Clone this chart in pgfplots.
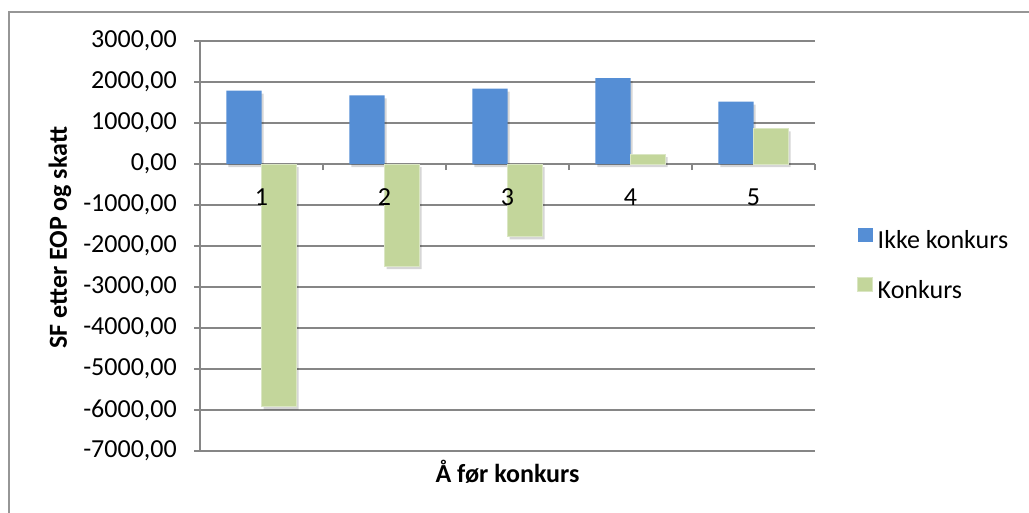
\documentclass[border=0pt]{standalone}
\usepackage{pgfplots}
\pgfplotsset{compat=1.18}
\usepackage{fontspec}
\setmainfont{Carlito}
\definecolor{barblue}{RGB}{85,142,213}
\definecolor{bargreen}{RGB}{195,214,155}
\definecolor{greenedge}{RGB}{218,230,195}
\definecolor{gridgray}{RGB}{134,134,134}
\definecolor{framegray}{RGB}{150,150,150}
\newcommand\chartfont{\fontsize{26bp}{31bp}\selectfont}
\begin{document}
\begin{tikzpicture}
% chart frame (top and left edges)
\draw[framegray, line width=1.3bp] (9bp,0bp) -- (9bp,501bp) -- (1029bp,501bp);
\begin{axis}[
  at={(200bp,62bp)}, anchor=south west,
  scale only axis, width=615bp, height=410bp,
  xmin=0.5, xmax=5.5, ymin=-7000, ymax=3000,
  axis x line=middle, axis y line=left,
  axis line style={-, gridgray, line width=1.3bp},
  ytick={-7000,-6000,...,3000},
  xtick={1,2,3,4,5},
  xticklabels={},
  minor xtick={0.5,1.5,...,5.5},
  major x tick style={draw=none},
  minor x tick style={gridgray, line width=1.3bp},
  y tick style={gridgray, line width=1.3bp},
  major tick length=6bp, minor tick length=6bp,
  tick align=outside,
  ymajorgrids, grid style={gridgray, line width=1.3bp},
  tick label style={font=\chartfont, text=black},
  yticklabel style={anchor=east, inner sep=0pt, xshift=-17bp,
    /pgf/number format/.cd, fixed, fixed zerofill, precision=2,
    use comma, 1000 sep={}, assume math mode=true},
  every axis x label/.style={at={(axis description cs:0.5,-0.051)},
    anchor=center, font=\bfseries\chartfont},
  every axis y label/.style={at={(axis description cs:-0.2276,0.52)},
    rotate=90, anchor=center, font=\bfseries\chartfont},
  xlabel={Å før konkurs},
  ylabel={SF etter EOP og skatt},
  legend style={at={(axis description cs:1.0683,0.451)}, anchor=west,
    draw=none, fill=none, inner sep=0pt, row sep=23bp, column sep=4bp,
    font=\chartfont,
    nodes={inner sep=1bp, text height=18bp, text depth=5bp}},
  legend cell align=left,
]
\addplot[forget plot, ybar, bar width=0.285, bar shift=-0.1425,
  fill=barblue, draw=none,
  preaction={fill=black, fill opacity=0.16, draw=none,
    transform canvas={xshift=2bp, yshift=-3bp}}]
  coordinates {(1,1790) (2,1673) (3,1836) (4,2097) (5,1520)};
\addplot[forget plot, ybar, bar width=0.285, bar shift=0.1425,
  fill=bargreen, draw=greenedge, line width=1bp,
  preaction={fill=black, fill opacity=0.16, draw=none,
    transform canvas={xshift=2bp, yshift=-3bp}}]
  coordinates {(1,-5920) (2,-2493) (3,-1763) (4,243) (5,869)};
\addlegendimage{legend image code/.code={%
  \fill[barblue] (0bp,0bp) rectangle (14.5bp,13.5bp);}}
\addlegendentry{Ikke konkurs}
\addlegendimage{legend image code/.code={%
  \filldraw[fill=bargreen, draw=greenedge, line width=1bp]
    (0bp,0.5bp) rectangle (14.5bp,14bp);}}
\addlegendentry{Konkurs}
% category labels, set over the bars
\node[font=\chartfont, inner sep=0pt, yshift=-33bp] at (axis cs:1,0) {1};
\node[font=\chartfont, inner sep=0pt, yshift=-33bp] at (axis cs:2,0) {2};
\node[font=\chartfont, inner sep=0pt, yshift=-33bp] at (axis cs:3,0) {3};
\node[font=\chartfont, inner sep=0pt, yshift=-33bp] at (axis cs:4,0) {4};
\node[font=\chartfont, inner sep=0pt, yshift=-33bp] at (axis cs:5,0) {5};
\end{axis}
% picture size fixed to the chart area
\pgfresetboundingbox
\path[use as bounding box] (0bp,0bp) rectangle (1029bp,513bp);
\end{tikzpicture}
\end{document}
